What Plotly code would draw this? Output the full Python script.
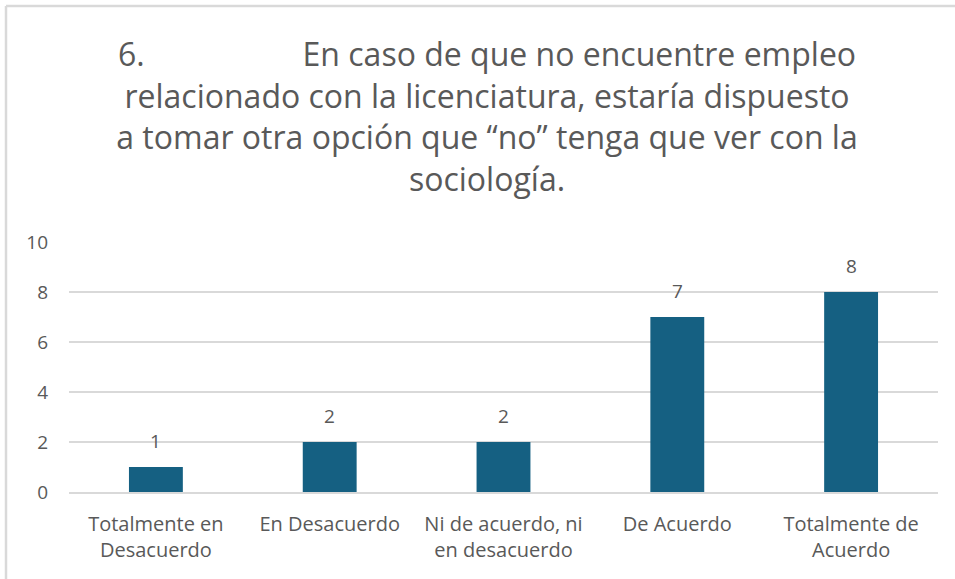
import plotly.graph_objects as go

categories = ["Totalmente en<br>Desacuerdo", "En Desacuerdo", "Ni de acuerdo, ni<br>en desacuerdo", "De Acuerdo", "Totalmente de<br>Acuerdo"]
values = [1, 2, 2, 7, 8]
y_ticks = [0, 2, 4, 6, 8, 10]

W, H = 955, 579
L, R, T, B = 69, 17, 242, 87
pw, ph = W - L - R, H - T - B

def px_x(x):
    return (x - L) / pw

def px_y(y):
    return (H - B - y) / ph

FONT = "'Open Sans', sans-serif"
GRAY = "#595959"
BORDER = "#D9D9D9"

nb = "\u00a0"
title = ("6." + nb * 19 + "En caso de que no encuentre empleo<br>"
         "relacionado con la licenciatura, estaría dispuesto<br>"
         "a tomar otra opción que “no” tenga que ver con la<br>"
         "sociología.")

fig = go.Figure(go.Bar(
    x=categories, y=values,
    marker=dict(color="#156082", line=dict(width=0)),
    hoverinfo="skip",
))

for c, v in zip(categories, values):
    fig.add_annotation(x=c, y=v, text=str(v), showarrow=False, yanchor="bottom", yshift=11,
                       font=dict(size=19, color=GRAY, family=FONT))

fig.update_layout(
    width=W, height=H,
    margin=dict(l=L, r=R, t=T, b=B),
    paper_bgcolor="white", plot_bgcolor="white",
    font=dict(family=FONT, color=GRAY),
    bargap=0.69,
    showlegend=False,
    title=dict(text=title, x=487 / W, xanchor="center", y=1 - 66 / H, yanchor="top",
               font=dict(size=32, color=GRAY, family=FONT)),
    shapes=[
        dict(type="line", xref="paper", yref="paper", x0=px_x(6), x1=px_x(960), y0=px_y(6), y1=px_y(6),
             line=dict(color=BORDER, width=2.5), layer="above"),
        dict(type="line", xref="paper", yref="paper", x0=px_x(6), x1=px_x(6), y0=px_y(6), y1=px_y(590),
             line=dict(color=BORDER, width=2.5), layer="above"),
    ],
)
fig.update_xaxes(showgrid=False, showline=True, linecolor=BORDER, linewidth=1.5,
                 tickfont=dict(size=20, color=GRAY), ticks="", ticklabelstandoff=13)
fig.update_yaxes(range=[0, 10], tickvals=y_ticks, showgrid=True, gridcolor=BORDER, gridwidth=1.5,
                 zeroline=False, showline=False, ticks="", ticklabelstandoff=20,
                 tickfont=dict(size=19, color=GRAY))

fig.write_html("out.html", config={"displayModeBar": False},
               post_script="document.body.style.margin='0';")
